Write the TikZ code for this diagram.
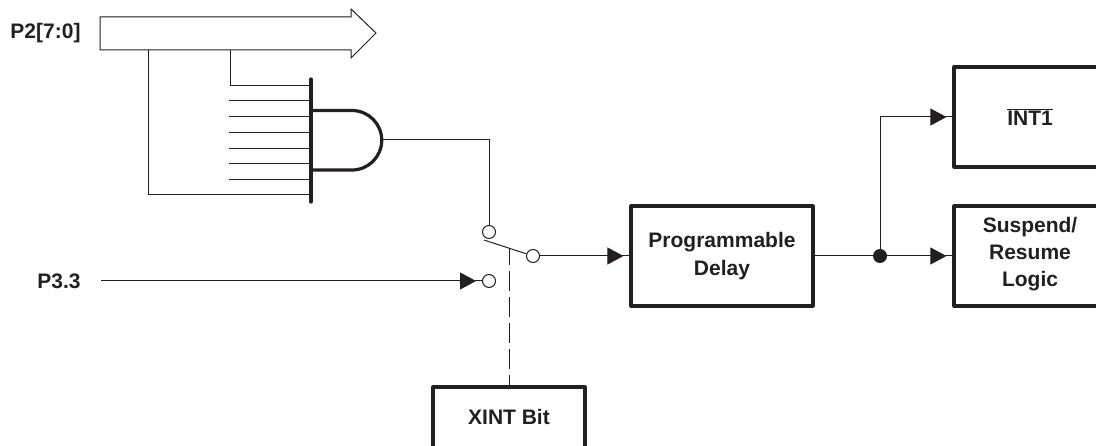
\documentclass[tikz,border=0pt]{standalone}
\usepackage{fontspec}
\setmainfont{Liberation Sans}
\usetikzlibrary{arrows.meta,decorations.markings}
\definecolor{ink}{HTML}{231F20}
\newcommand{\barred}[1]{{\setbox0=\hbox{#1}\rlap{\rule[\dimexpr\ht0+1.6pt\relax]{\wd0}{0.9pt}}\box0}}
\tikzset{
  wire/.style={draw=ink,line width=1pt},
  boxnode/.style={draw=ink,line width=3.2pt,line join=round,align=center,inner sep=0pt,font=\bfseries\fontsize{21}{27}\selectfont,text=ink},
  lbl/.style={font=\bfseries\fontsize{21}{27}\selectfont,text=ink,inner sep=0pt,align=center},
  pin/.style={circle,draw=ink,line width=1pt,fill=white,minimum size=13pt,inner sep=0pt},
  dotnode/.style={circle,fill=ink,minimum size=14pt,inner sep=0pt},
  headed/.style={postaction={decorate,decoration={markings,mark=at position -6pt with {\arrow[ink]{Triangle[length=16pt,width=17pt]}}}}}
}
\begin{document}
\begin{tikzpicture}[x=1pt,y=-1pt]
\useasboundingbox (0,0) rectangle (1096,446);
\clip (0,0) rectangle (1096,446);
% boxes
\node[boxnode,minimum width=182pt,minimum height=100pt] (delay) at (722,256) {Programmable\\[1pt]Delay};
\node[boxnode,minimum width=152pt,minimum height=100pt] (int) at (1030,117) {\barred{INT1}};
\node[boxnode,minimum width=152pt,minimum height=100pt] (susp) at (1030,256) {};
\node[lbl] (susplbl) at (1030,254.5) {Suspend/\\Resume\\Logic};
\node[boxnode,minimum width=152pt,minimum height=70pt] (xint) at (509,422) {};
\node[lbl] (xintlbl) at (509,417) {XINT Bit};
% bus arrow
\draw[wire,line join=miter] (100,17) -- (351,17) -- (351,9) -- (376,33) -- (351,58) -- (351,50) -- (100,50) -- cycle;
\node[lbl] (p2) at (45.5,33) {P2[7:0]};
\node[lbl] (p3) at (59,281) {P3.3};
% AND gate
\coordinate (bartop) at (311,79);
\coordinate (barbot) at (311,202);
\coordinate (busa) at (148,50);
\coordinate (busb) at (230,50);
\coordinate (andout) at (382,140);
\draw[wire] (busa) |- (311,195);
\draw[wire] (busb) |- (311,86);
\foreach \y/\n in {101/a,117/b,133/c,149/d,164/e,180/f}{
  \coordinate (in\n) at (229,\y);
  \draw[wire] (in\n) -- (311,\y);
}
\draw[draw=ink,line width=3.2pt,line cap=round] (bartop) -- (barbot);
\draw[draw=ink,line width=3.2pt] (311,110.5) -- (352,110.5) arc[start angle=-90,end angle=90,radius=29.75] -- (311,170);
% switch
\node[pin] (s1) at (489,232) {};
\node[pin] (s2) at (489,281) {};
\node[pin] (s3) at (533,256) {};
\coordinate (armstart) at (484,240);
\coordinate (armmid) at (509,249);
\coordinate (p3start) at (101,281);
\draw[wire] (armstart) -- (s3);
\draw[wire] (andout) -| (s1);
\draw[wire,headed] (p3start) -- (s2);
\draw[wire,dash pattern=on 20pt off 6pt,dash phase=4pt] (armmid) -- (armmid |- xint.north);
\draw[wire,headed] (s3) -- (delay.west);
% outputs
\node[dotnode] (j) at (880,256) {};
\draw[wire] (delay.east) -- (j);
\draw[wire,headed] (j) -- (susp.west);
\draw[wire,headed] (j) |- (int.west);
\end{tikzpicture}
\end{document}
